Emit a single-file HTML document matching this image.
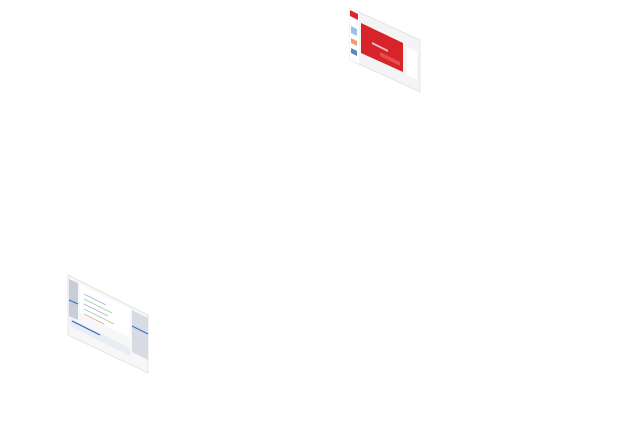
<!DOCTYPE html>
<html><head><meta charset="utf-8"><style>
html,body{margin:0;padding:0;background:#fff;width:627px;height:424px;overflow:hidden}
</style></head><body>
<svg width="627" height="424">
<g>
<polygon points="350,8 420,40 420,92 350,60" fill="#f4f4f4" stroke="#ddd" stroke-width="0.7"/>
<polygon points="350,8 359,12 359,64 350,60" fill="#fff"/>
<polygon points="350,10 358,14 358,20 350,16" fill="#d9262b"/>
<polygon points="351,26 357,29 357,36 351,33" fill="#9cc3e6"/>
<polygon points="351,38 357,41 357,46 351,43" fill="#f0a070"/>
<polygon points="351,48 357,51 357,56 351,53" fill="#5a86c0"/>
<polygon points="361,23 403,43 403,72 361,53" fill="#d7232a"/>
<polygon points="372,42 388,50 388,52 372,44" fill="#f3c2c2"/>
<polygon points="380,52 400,62 400,66 380,56" fill="#e25050"/>
<polygon points="407,47 417,52 417,80 407,75" fill="#fff"/>
</g>
<g>
<polygon points="68,275 148,315 148,373 68,335" fill="#f7f7f7" stroke="#ddd" stroke-width="0.7"/>
<polygon points="69,279 78,283 78,320 69,316" fill="#c8ced8"/>
<line x1="69" y1="300" x2="78" y2="304" stroke="#2f6fd0" stroke-width="1"/>
<polygon points="80,284 130,309 130,338 80,313" fill="#fff"/>
<line x1="84" y1="294" x2="106" y2="305" stroke="#9ab8e0" stroke-width="0.8"/>
<line x1="84" y1="299" x2="112" y2="313" stroke="#9fd09a" stroke-width="0.8"/>
<line x1="84" y1="304" x2="108" y2="316" stroke="#c0a6e0" stroke-width="0.8"/>
<line x1="84" y1="309" x2="114" y2="324" stroke="#9fd09a" stroke-width="0.8"/>
<line x1="84" y1="314" x2="104" y2="324" stroke="#e8a0a0" stroke-width="0.8"/>
<polygon points="132,310 148,318 148,360 132,352" fill="#d7dce4"/>
<line x1="132" y1="326" x2="148" y2="334" stroke="#2f6fd0" stroke-width="1"/>
<polygon points="70,318 130,348 130,356 70,326" fill="#e8ecf4"/>
<line x1="72" y1="321" x2="100" y2="335" stroke="#3a5cc0" stroke-width="1"/>
</g>
</svg>
</body></html>
